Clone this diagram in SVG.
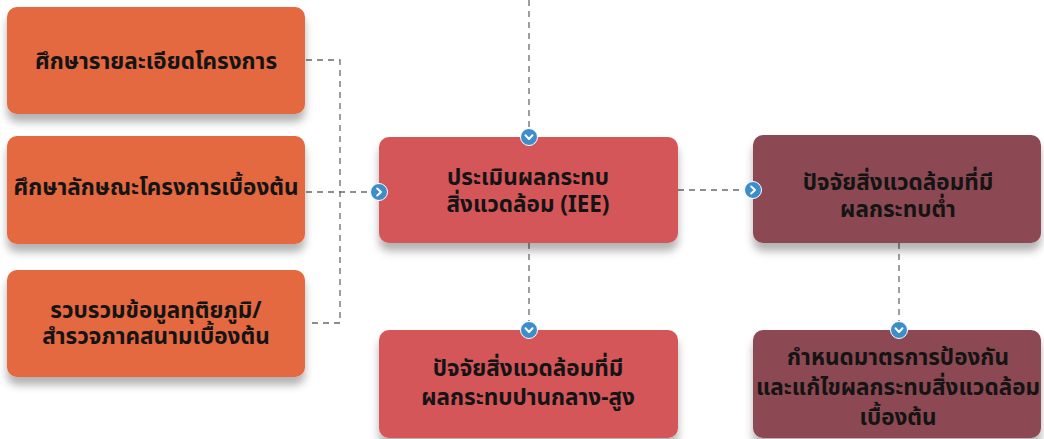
<svg xmlns="http://www.w3.org/2000/svg" xmlns:xlink="http://www.w3.org/1999/xlink" width="1044" height="439" viewBox="0 0 1044 439">
<style>
.t{font-family:"Noto Sans Thai","Noto Sans","DejaVu Sans",sans-serif;font-weight:700;fill:#141414;text-anchor:middle;font-size:22.5px}
.or{fill:#E4673F}
.rd{fill:#D45658}
.mr{fill:#8C4853}
.c{fill:none;stroke:#6a6a6a;stroke-width:1.3;stroke-dasharray:6 5}
</style>
<defs>
<filter id="sh" x="-20%" y="-20%" width="140%" height="160%">
<feDropShadow dx="0" dy="8" stdDeviation="4" flood-color="#000" flood-opacity="0.3"/>
</filter>
<g id="chR"><circle r="8.5" fill="#3C8DCA" stroke="#fff" stroke-width="1"/><path d="M-1.8,-3.5 L2,0 L-1.8,3.5" fill="none" stroke="#fff" stroke-width="2" stroke-linecap="round" stroke-linejoin="round"/></g>
<g id="chD"><circle r="8.5" fill="#3C8DCA" stroke="#fff" stroke-width="1"/><path d="M-3.5,-1.8 L0,2 L3.5,-1.8" fill="none" stroke="#fff" stroke-width="2" stroke-linecap="round" stroke-linejoin="round"/></g>
</defs>
<rect width="1044" height="439" fill="#fff"/>
<g id="connectors">
<path class="c" d="M529,0 V130"/>
<path class="c" d="M306,60 H340 V323 H307"/>
<path class="c" d="M306,192 H371"/>
<path class="c" d="M678,190 H745"/>
<path class="c" d="M529,243 V322"/>
<path class="c" d="M899,243 V322"/>
</g>
<g id="n1"><rect class="or" x="7" y="7" width="298" height="107" rx="10" filter="url(#sh)"/><text class="t" x="156" y="69">ศึกษารายละเอียดโครงการ</text></g>
<g id="n2"><rect class="or" x="7" y="136" width="298" height="108" rx="10" filter="url(#sh)"/><text class="t" x="156" y="195">ศึกษาลักษณะโครงการเบื้องต้น</text></g>
<g id="n3"><rect class="or" x="7" y="270" width="298" height="107" rx="10" filter="url(#sh)"/><text class="t" x="156" y="318">รวบรวมข้อมูลทุติยภูมิ/</text><text class="t" x="156" y="344">สำรวจภาคสนามเบื้องต้น</text></g>
<g id="n4"><rect class="rd" x="379" y="137" width="299" height="106" rx="10" filter="url(#sh)"/><text class="t" x="528" y="185">ประเมินผลกระทบ</text><text class="t" x="528" y="212">สิ่งแวดล้อม (IEE)</text></g>
<g id="n5"><rect class="rd" x="379" y="330" width="299" height="108" rx="10" filter="url(#sh)"/><text class="t" x="528" y="376">ปัจจัยสิ่งแวดล้อมที่มี</text><text class="t" x="528" y="405">ผลกระทบปานกลาง-สูง</text></g>
<g id="n6"><rect class="mr" x="753" y="135" width="288" height="108" rx="10" filter="url(#sh)"/><text class="t" x="898" y="190">ปัจจัยสิ่งแวดล้อมที่มี</text><text class="t" x="898" y="217">ผลกระทบต่ำ</text></g>
<g id="n7"><rect class="mr" x="753" y="330" width="288" height="108" rx="10" filter="url(#sh)"/><text class="t" x="898" y="365">กำหนดมาตรการป้องกัน</text><text class="t" x="898" y="395">และแก้ไขผลกระทบสิ่งแวดล้อม</text><text class="t" x="898" y="425">เบื้องต้น</text></g>
<g id="chevrons">
<use xlink:href="#chD" x="529" y="137"/>
<use xlink:href="#chR" x="379" y="192"/>
<use xlink:href="#chR" x="753" y="190"/>
<use xlink:href="#chD" x="529" y="330"/>
<use xlink:href="#chD" x="899" y="330"/>
</g>
</svg>
